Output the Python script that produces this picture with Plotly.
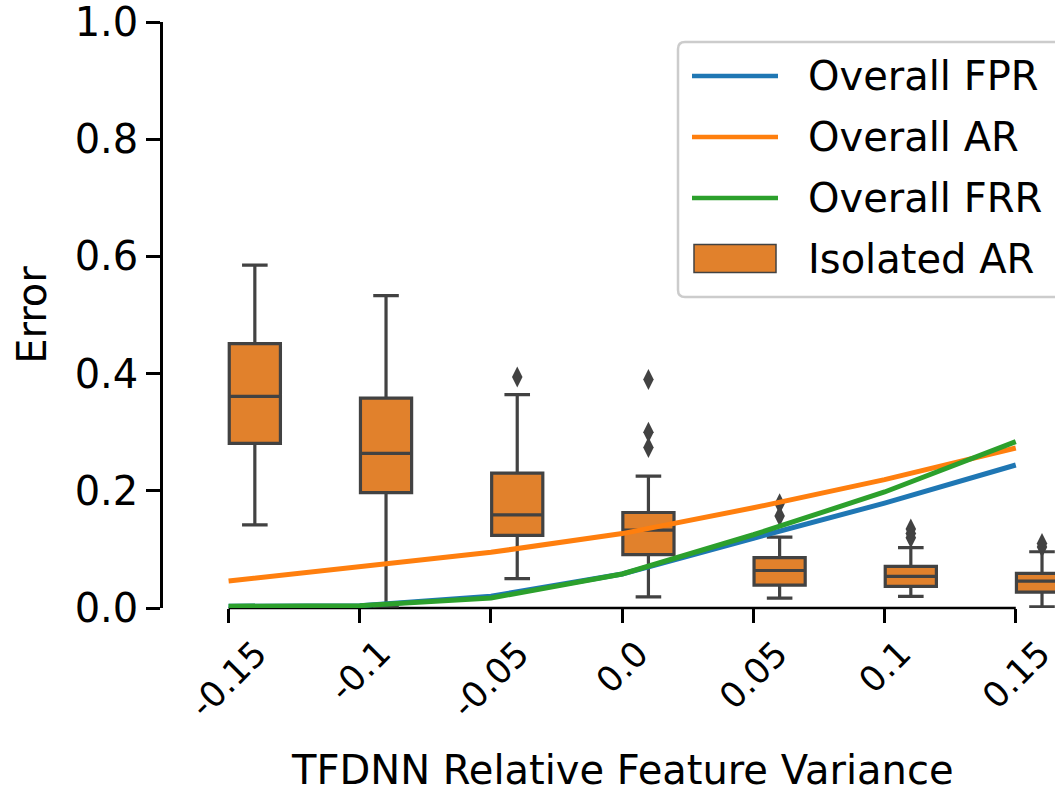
import plotly.graph_objects as go

# Relative feature variance settings (categorical x axis)
variance_labels = ["-0.15", "-0.1", "-0.05", "0.0", "0.05", "0.1", "0.15"]

# Overall error rates per setting
overall_fpr = [0.003, 0.004, 0.020, 0.058, 0.119, 0.179, 0.244]
overall_ar = [0.046, 0.070, 0.095, 0.127, 0.171, 0.219, 0.273]
overall_frr = [0.003, 0.004, 0.017, 0.058, 0.125, 0.198, 0.284]

# Isolated AR distribution summary per setting
iso_lower = [0.142, 0.003, 0.050, 0.019, 0.017, 0.020, 0.002]
iso_q1 = [0.281, 0.197, 0.124, 0.091, 0.039, 0.037, 0.027]
iso_median = [0.361, 0.264, 0.159, 0.133, 0.064, 0.054, 0.046]
iso_q3 = [0.451, 0.358, 0.230, 0.163, 0.086, 0.071, 0.059]
iso_upper = [0.585, 0.533, 0.364, 0.225, 0.121, 0.103, 0.096]
iso_outliers = [
    [],
    [],
    [0.394],
    [0.390, 0.300, 0.274],
    [0.178, 0.157],
    [0.135, 0.127, 0.120],
    [0.110, 0.104],
]

legend_names = ["Overall FPR", "Overall AR", "Overall FRR", "Isolated AR"]
line_colors = ["#1f77b4", "#ff7f0e", "#2ca02c"]

BOX_FILL = "#e1812c"
BOX_EDGE = "#424242"
FONT = "DejaVu Sans"
HUE_OFFSET = 0.2  # boxes sit in the right half of each category slot

W, H = 1055, 788
ML, MR, MT, MB = 163, 0, 22, 180
PW, PH = W - ML - MR, H - MT - MB


def px_x(px):
    """Pixel column -> paper x."""
    return (px - ML) / PW


def px_y(py):
    """Pixel row -> paper y."""
    return (H - MB - py) / PH


positions = list(range(len(variance_labels)))
box_x = [p + HUE_OFFSET for p in positions]

fig = go.Figure()

fig.add_trace(go.Box(
    name=legend_names[3],
    x=box_x,
    lowerfence=iso_lower,
    q1=iso_q1,
    median=iso_median,
    q3=iso_q3,
    upperfence=iso_upper,
    width=0.39,
    whiskerwidth=0.5,
    fillcolor=BOX_FILL,
    line=dict(color=BOX_EDGE, width=3.2),
    boxpoints=False,
    showlegend=False,
))

out_x, out_y = [], []
for p, vals in zip(box_x, iso_outliers):
    for v in vals:
        out_x.append(p)
        out_y.append(v)

fig.add_trace(go.Scatter(
    x=out_x, y=out_y, mode="markers",
    marker=dict(symbol="diamond-tall", size=15, color=BOX_EDGE,
                line=dict(width=0)),
    showlegend=False, hoverinfo="skip",
))

for name, vals, color in zip(legend_names[:3],
                             [overall_fpr, overall_ar, overall_frr],
                             line_colors):
    fig.add_trace(go.Scatter(
        x=positions, y=vals, mode="lines", name=name,
        line=dict(color=color, width=5), showlegend=False,
    ))

# Trimmed bottom spine spanning first to last category
fig.add_shape(
    type="line", xref="x", yref="paper",
    x0=positions[0], x1=positions[-1], y0=0, y1=0,
    line=dict(color="black", width=2.5), layer="below",
)

# Rotated category labels centred under their ticks
for p, lab in zip(positions, variance_labels):
    fig.add_annotation(
        x=p, y=0, xref="x", yref="paper",
        text=lab, showarrow=False, textangle=-45,
        xanchor="center", yanchor="top", yshift=-22,
        font=dict(family=FONT, size=35, color="black"),
    )

fig.add_annotation(
    x=3, y=0, xref="x", yref="paper",
    text="TFDNN Relative Feature Variance", showarrow=False,
    xanchor="center", yanchor="middle", yshift=-162,
    font=dict(family=FONT, size=40, color="black"),
)

# Legend panel: rounded frame running off the right edge
lx0, lx1, ly0, ly1, rad = 678, 1080, 42, 297, 7
rx, ry = rad / PW, rad / PH
X0, X1, Y0, Y1 = px_x(lx0), px_x(lx1), px_y(ly0), px_y(ly1)
frame = (
    f"M {X0 + rx},{Y0} L {X1},{Y0} L {X1},{Y1} L {X0 + rx},{Y1} "
    f"Q {X0},{Y1} {X0},{Y1 + ry} L {X0},{Y0 - ry} Q {X0},{Y0} {X0 + rx},{Y0} Z"
)
fig.add_shape(
    type="path", path=frame, xref="paper", yref="paper",
    line=dict(color="#cccccc", width=2.5), fillcolor="rgba(255,255,255,0.85)",
    layer="above",
)

row_y = [76, 137, 198, 258.5]
for yy, color in zip(row_y[:3], line_colors):
    fig.add_shape(
        type="line", xref="paper", yref="paper",
        x0=px_x(692), x1=px_x(778), y0=px_y(yy), y1=px_y(yy),
        line=dict(color=color, width=4.5), layer="above",
    )
fig.add_shape(
    type="rect", xref="paper", yref="paper",
    x0=px_x(694), x1=px_x(776), y0=px_y(row_y[3] - 14), y1=px_y(row_y[3] + 14),
    line=dict(color=BOX_EDGE, width=1.5), fillcolor=BOX_FILL, layer="above",
)
for yy, name in zip(row_y, legend_names):
    fig.add_annotation(
        x=px_x(806), y=px_y(yy), xref="paper", yref="paper",
        text=name, showarrow=False, xanchor="left", yanchor="middle",
        font=dict(family=FONT, size=40, color="black"),
    )

fig.update_layout(
    width=W, height=H,
    margin=dict(l=ML, r=MR, t=MT, b=MB, pad=0),
    paper_bgcolor="white", plot_bgcolor="white",
    font=dict(family=FONT, size=40, color="black"),
    showlegend=False,
    xaxis=dict(
        range=[-0.5, 6.299], tickmode="array", tickvals=positions,
        showticklabels=False, ticks="outside", ticklen=14, tickwidth=2.5,
        tickcolor="black", showgrid=False, zeroline=False, showline=False,
    ),
    yaxis=dict(
        range=[0, 1], tickmode="array",
        tickvals=[0, 0.2, 0.4, 0.6, 0.8, 1.0],
        ticktext=["0.0", "0.2", "0.4", "0.6", "0.8", "1.0"],
        ticklabeloverflow="allow",
        ticks="outside", ticklen=14, tickwidth=2.5, tickcolor="black",
        tickfont=dict(family=FONT, size=40, color="black"),
        showline=True, linewidth=2.5, linecolor="black",
        showgrid=False, zeroline=False,
        title=dict(text="Error", standoff=16,
                   font=dict(family=FONT, size=40, color="black")),
    ),
)

fig.write_html("out.html")
